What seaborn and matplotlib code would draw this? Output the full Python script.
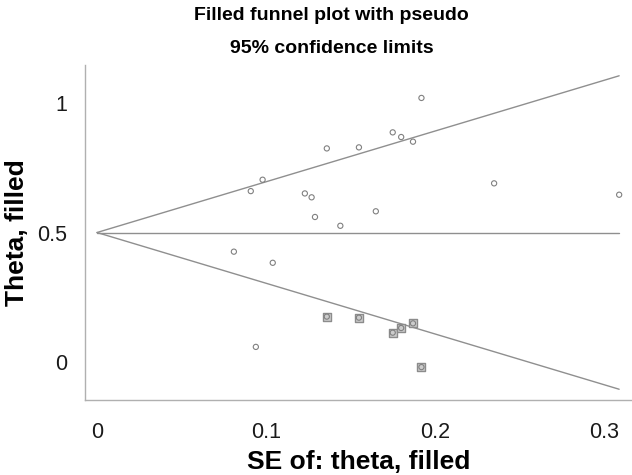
import matplotlib
matplotlib.use("Agg")
import matplotlib.pyplot as plt
import numpy as np
import pandas as pd
import seaborn as sns

# observed studies (hollow circles)
obs_se = [0.081, 0.104, 0.094, 0.136, 0.098, 0.091, 0.123, 0.127, 0.129, 0.144,
          0.192, 0.175, 0.180, 0.187, 0.155, 0.235, 0.309, 0.165]
obs_theta = [0.426, 0.383, 0.058, 0.825, 0.704, 0.660, 0.651, 0.636, 0.560, 0.526,
             1.020, 0.887, 0.869, 0.851, 0.829, 0.690, 0.646, 0.582]

# imputed (filled) studies
fill_se = [0.136, 0.155, 0.175, 0.180, 0.187, 0.192]
fill_theta = [0.175, 0.171, 0.113, 0.131, 0.149, -0.020]

pooled = 0.5
se_max = 0.309
xticks = [0, 0.1, 0.2, 0.3]
xtick_labels = ["0", "0.1", "0.2", "0.3"]
yticks = [0, 0.5, 1]
ytick_labels = ["0", "0.5", "1"]


def main():
    sns.set_theme(style="white")
    plt.rcParams['font.family'] = ['Liberation Sans', 'DejaVu Sans']

    fig = plt.figure(figsize=(6.32, 4.75), dpi=100)
    ax = fig.add_axes([0.1345, 0.158, 0.8655, 0.705])

    gray = "#8f8f8f"
    se_line = np.array([0, se_max])
    lines = pd.DataFrame({
        "se": np.concatenate([se_line, se_line, se_line]),
        "theta": np.concatenate([pooled + 1.96 * se_line,
                                 pooled - 1.96 * se_line,
                                 [pooled, pooled]]),
        "grp": ["up", "up", "lo", "lo", "mid", "mid"],
    })
    sns.lineplot(data=lines, x="se", y="theta", units="grp", estimator=None,
                 color=gray, lw=1.0, ax=ax, legend=False)

    sns.scatterplot(x=fill_se, y=fill_theta, marker="s", s=36,
                    color="#cccccc", edgecolor="#8c8c8c", linewidth=1.0,
                    ax=ax, zorder=3)
    all_se = obs_se + fill_se
    all_theta = obs_theta + fill_theta
    sns.scatterplot(x=all_se, y=all_theta, marker="o", s=14,
                    facecolor="none", edgecolor="#808080", linewidth=0.8,
                    ax=ax, zorder=4)

    ax.set_xlim(-0.0071, 0.3166)
    ax.set_ylim(-0.147, 1.147)
    ax.set_xticks(xticks)
    ax.set_xticklabels(xtick_labels)
    ax.set_yticks(yticks)
    ax.set_yticklabels(ytick_labels)

    for s in ["top", "right"]:
        ax.spines[s].set_visible(False)
    for s in ["left", "bottom"]:
        ax.spines[s].set_color("#b0b0b0")
        ax.spines[s].set_linewidth(1.0)
    ax.tick_params(axis="both", direction="out", length=6, width=0.8,
                   color="#b0b0b0", labelsize=15.5, labelcolor="#1a1a1a")
    ax.tick_params(axis="x", pad=10)
    ax.tick_params(axis="y", pad=7)

    ax.set_xlabel("SE of: theta, filled", fontsize=19, fontweight="bold",
                  labelpad=5, color="black")
    ax.set_ylabel("Theta, filled", fontsize=19, fontweight="bold", labelpad=6,
                  color="black")
    fig.text(0.525, 0.958, "Filled funnel plot with pseudo", ha="center",
             va="baseline", fontsize=14, fontweight="bold", color="black")
    fig.text(0.525, 0.888, "95% confidence limits", ha="center",
             va="baseline", fontsize=14, fontweight="bold", color="black")

    fig.savefig("out.png", dpi=100)


if __name__ == '__main__':
    main()
